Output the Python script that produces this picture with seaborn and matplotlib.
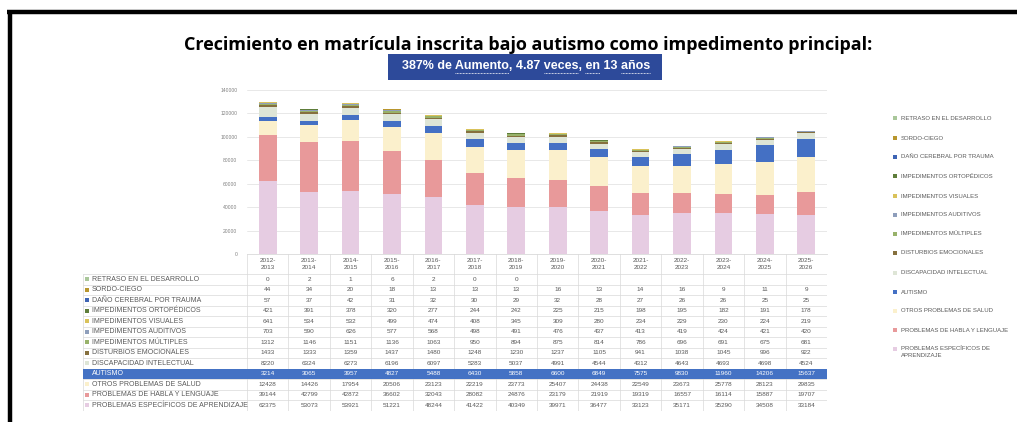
import numpy as np
import pandas as pd
import matplotlib.pyplot as plt
from matplotlib.patches import Rectangle
from matplotlib.lines import Line2D
import seaborn as sns

sns.set_style("white")
plt.rcParams['font.family'] = ['Liberation Sans', 'DejaVu Sans']

# school years (columns of the chart / table)
years = ["2012-\n2013", "2013-\n2014", "2014-\n2015", "2015-\n2016", "2016-\n2017",
         "2017-\n2018", "2018-\n2019", "2019-\n2020", "2020-\n2021", "2021-\n2022",
         "2022-\n2023", "2023-\n2024", "2024-\n2025", "2025-\n2026"]

# categories in table order (top of stack first)
categories = ["RETRASO EN EL DESARROLLO", "SORDO-CIEGO", "DAÑO CEREBRAL POR TRAUMA",
              "IMPEDIMENTOS ORTOPÉDICOS", "IMPEDIMENTOS VISUALES", "IMPEDIMENTOS AUDITIVOS",
              "IMPEDIMENTOS MÚLTIPLES", "DISTURBIOS EMOCIONALES", "DISCAPACIDAD INTELECTUAL",
              "AUTISMO", "OTROS PROBLEMAS DE SALUD", "PROBLEMAS DE HABLA Y LENGUAJE",
              "PROBLEMAS ESPECÍFICOS DE APRENDIZAJE"]

nan = np.nan
retraso = [0, 2, 1, 6, 2, 0, 0, nan, nan, nan, nan, nan, nan, nan]
sordo_ciego = [44, 34, 20, 18, 13, 13, 13, 16, 13, 14, 16, 9, 11, 9]
dano_cerebral = [57, 37, 42, 31, 32, 30, 29, 32, 28, 27, 26, 26, 25, 25]
ortopedicos = [421, 391, 378, 320, 277, 244, 242, 225, 215, 198, 195, 182, 191, 178]
visuales = [641, 534, 532, 499, 474, 408, 345, 309, 280, 234, 229, 230, 224, 219]
auditivos = [703, 590, 626, 577, 568, 498, 491, 476, 437, 413, 419, 424, 421, 420]
multiples = [1312, 1146, 1151, 1136, 1063, 950, 894, 875, 814, 786, 696, 691, 675, 681]
emocionales = [1433, 1333, 1359, 1437, 1480, 1248, 1230, 1237, 1105, 941, 1038, 1045, 996, 922]
intelectual = [8220, 6324, 6273, 6196, 6097, 5283, 5037, 4991, 4544, 4312, 4643, 4693, 4698, 4524]
autismo = [3214, 3065, 3957, 4827, 5488, 6430, 5858, 6600, 6849, 7575, 9830, 11960, 14206, 15637]
otros_salud = [12428, 14426, 17954, 20506, 23123, 22219, 23773, 25407, 24438, 22549, 23673, 25778, 28123, 29835]
habla = [39144, 42799, 42872, 36602, 32043, 28082, 24876, 23179, 21919, 19319, 16557, 16114, 15887, 19707]
aprendizaje = [62375, 53073, 53921, 51221, 48244, 41422, 40349, 39971, 36477, 33123, 35171, 35290, 34508, 33184]

series = [retraso, sordo_ciego, dano_cerebral, ortopedicos, visuales, auditivos, multiples,
          emocionales, intelectual, autismo, otros_salud, habla, aprendizaje]

colors = ["#A9C79A", "#B8962E", "#3E64B4", "#5E7D3A", "#D9C25A", "#8E9EBB", "#98B26A",
          "#86703E", "#DEE5D6", "#4470C4", "#FBF0CC", "#E8999A", "#E6CCE2"]
palette = dict(zip(categories, colors))

# long table for seaborn
rows = []
for cat, vals in zip(categories, series):
    for yr, v in zip(years, vals):
        rows.append((yr, cat, v))
df = pd.DataFrame(rows, columns=["year", "cat", "value"])
df["value"] = df["value"].fillna(0)

W, H = 1017, 422
fig = plt.figure(figsize=(W / 100, H / 100), dpi=100)

# main stacked bars
ax = fig.add_axes([247 / W, (H - 254) / H, 580 / W, 164 / H])
sns.histplot(data=df, x="year", weights="value", hue="cat", hue_order=categories,
             palette=palette, multiple="stack", discrete=True, shrink=0.43,
             linewidth=0, alpha=1, legend=False, ax=ax)
ax.set_xlim(-0.5, 13.5)
ax.set_ylim(0, 140000)
ax.set_yticks(range(0, 140001, 20000))
ax.set_xticks([])
ax.set_xlabel("")
ax.set_ylabel("")
ax.tick_params(axis="y", labelsize=3.6, colors="#808080", length=0, pad=7)
ax.grid(axis="y", color="#E4E4E4", lw=0.6)
ax.set_axisbelow(True)
for s in ["left", "top", "right"]:
    ax.spines[s].set_visible(False)
ax.spines["bottom"].set_color("#D9D9D9")
ax.spines["bottom"].set_linewidth(0.6)

# data table under the chart
col_px = 580 / 14
lab_w = 164 / col_px
ax_t = fig.add_axes([83 / W, (H - 411) / H, 744 / W, 157 / H])
x0 = -0.5 - lab_w
ax_t.set_xlim(x0, 13.5)
ax_t.set_ylim(157, 0)
ax_t.axis("off")
row_h = 10.5
head_h = 20
line_c = "#D9D9D9"

for i, yr in enumerate(years):
    ax_t.text(i, head_h / 2, yr, ha="center", va="center", fontsize=4.6,
              color="#595959", linespacing=1.5)
for k in range(15):
    ax_t.plot([k - 0.5, k - 0.5], [0, 157], color=line_c, lw=0.5)
ax_t.plot([x0, x0], [head_h, 157], color=line_c, lw=0.5)
for r in range(len(categories) + 1):
    y = head_h + row_h * r
    ax_t.plot([x0, 13.5], [y, y], color=line_c, lw=0.5)

for r, (cat, vals) in enumerate(zip(categories, series)):
    top = head_h + row_h * r
    yc = top + row_h / 2
    txt_c = "#595959"
    if cat == "AUTISMO":
        ax_t.add_patch(Rectangle((x0, top), 13.5 - x0, row_h, facecolor="#4472C4",
                                 edgecolor="none", zorder=3))
        txt_c = "white"
    else:
        ax_t.add_patch(Rectangle((x0 + 2 / col_px, yc - 2), 4 / col_px, 4,
                                 facecolor=palette[cat], edgecolor="none"))
    ax_t.text(x0 + 9 / col_px, yc, cat, ha="left", va="center", fontsize=5.0,
              color=txt_c, zorder=4)
    for i, v in enumerate(vals):
        if not np.isnan(v):
            ax_t.text(i, yc, f"{int(v)}", ha="center", va="center", fontsize=4.6,
                      color=txt_c, zorder=4)

# legend on the right
leg_y = [118, 138, 157, 176, 196, 215, 234, 253, 273, 292, 311, 330, 349]
for cat, yp in zip(categories, leg_y):
    fig.patches.append(Rectangle((893 / W, 1 - (yp + 2) / H), 4 / W, 4 / H,
                                 facecolor=palette[cat], edgecolor="none",
                                 transform=fig.transFigure, figure=fig))
    if cat == "PROBLEMAS ESPECÍFICOS DE APRENDIZAJE":
        fig.text(901 / W, 1 - (yp - 3) / H, "PROBLEMAS ESPECÍFICOS DE\nAPRENDIZAJE",
                 ha="left", va="top", fontsize=4.3, color="#595959", linespacing=1.4)
    else:
        fig.text(901 / W, 1 - yp / H, cat, ha="left", va="center", fontsize=4.3,
                 color="#595959")

# title and highlighted subtitle
fig.text(528 / W, 1 - 45 / H,
         "Crecimiento en matrícula inscrita bajo autismo como impedimento principal:",
         ha="center", va="center", fontsize=13, fontweight="bold",
         family=["Open Sans", "DejaVu Sans"], color="black")
fig.patches.append(Rectangle((388 / W, 1 - 80 / H), 274 / W, 26 / H, facecolor="#2D4A9A",
                             edgecolor="none", transform=fig.transFigure, figure=fig))
sub_parts = ["387% de ", "Aumento", ", 4.87 ", "veces", ", ", "en", " 13 ", "años"]
sub_text = "".join(sub_parts)
sub_kw = dict(fontsize=9, fontweight="bold", color="white")
fig.text(526 / W, 1 - 66 / H, sub_text, ha="center", va="center", **sub_kw)

# dotted spell-check style underlines below some words
renderer = fig.canvas.get_renderer()


def text_width(s):
    t = fig.text(0, 0, s, **sub_kw)
    w = t.get_window_extent(renderer).width
    t.remove()
    return w


full_w = text_width(sub_text)
left = 526 - full_w / 2
pos = 0.0
for k, part in enumerate(sub_parts):
    w = text_width(sub_text[:len("".join(sub_parts[:k + 1]))]) - pos
    if k % 2 == 1:
        fig.lines.append(Line2D([(left + pos) / W, (left + pos + w) / W],
                                [1 - 72.5 / H] * 2, color="white", lw=0.6,
                                linestyle=(0, (1, 0.8)), transform=fig.transFigure,
                                figure=fig))
    pos += w

# black frame on the top and left edge
fig.lines.append(Line2D([9.5 / W, 9.5 / W], [0, 1 - 12 / H], color="black", lw=3.2,
                        solid_capstyle="butt", transform=fig.transFigure, figure=fig))
fig.lines.append(Line2D([7.2 / W, 1], [1 - 12 / H, 1 - 12 / H], color="black", lw=3.2,
                        solid_capstyle="butt", transform=fig.transFigure, figure=fig))

fig.savefig("out.png", dpi=100)
